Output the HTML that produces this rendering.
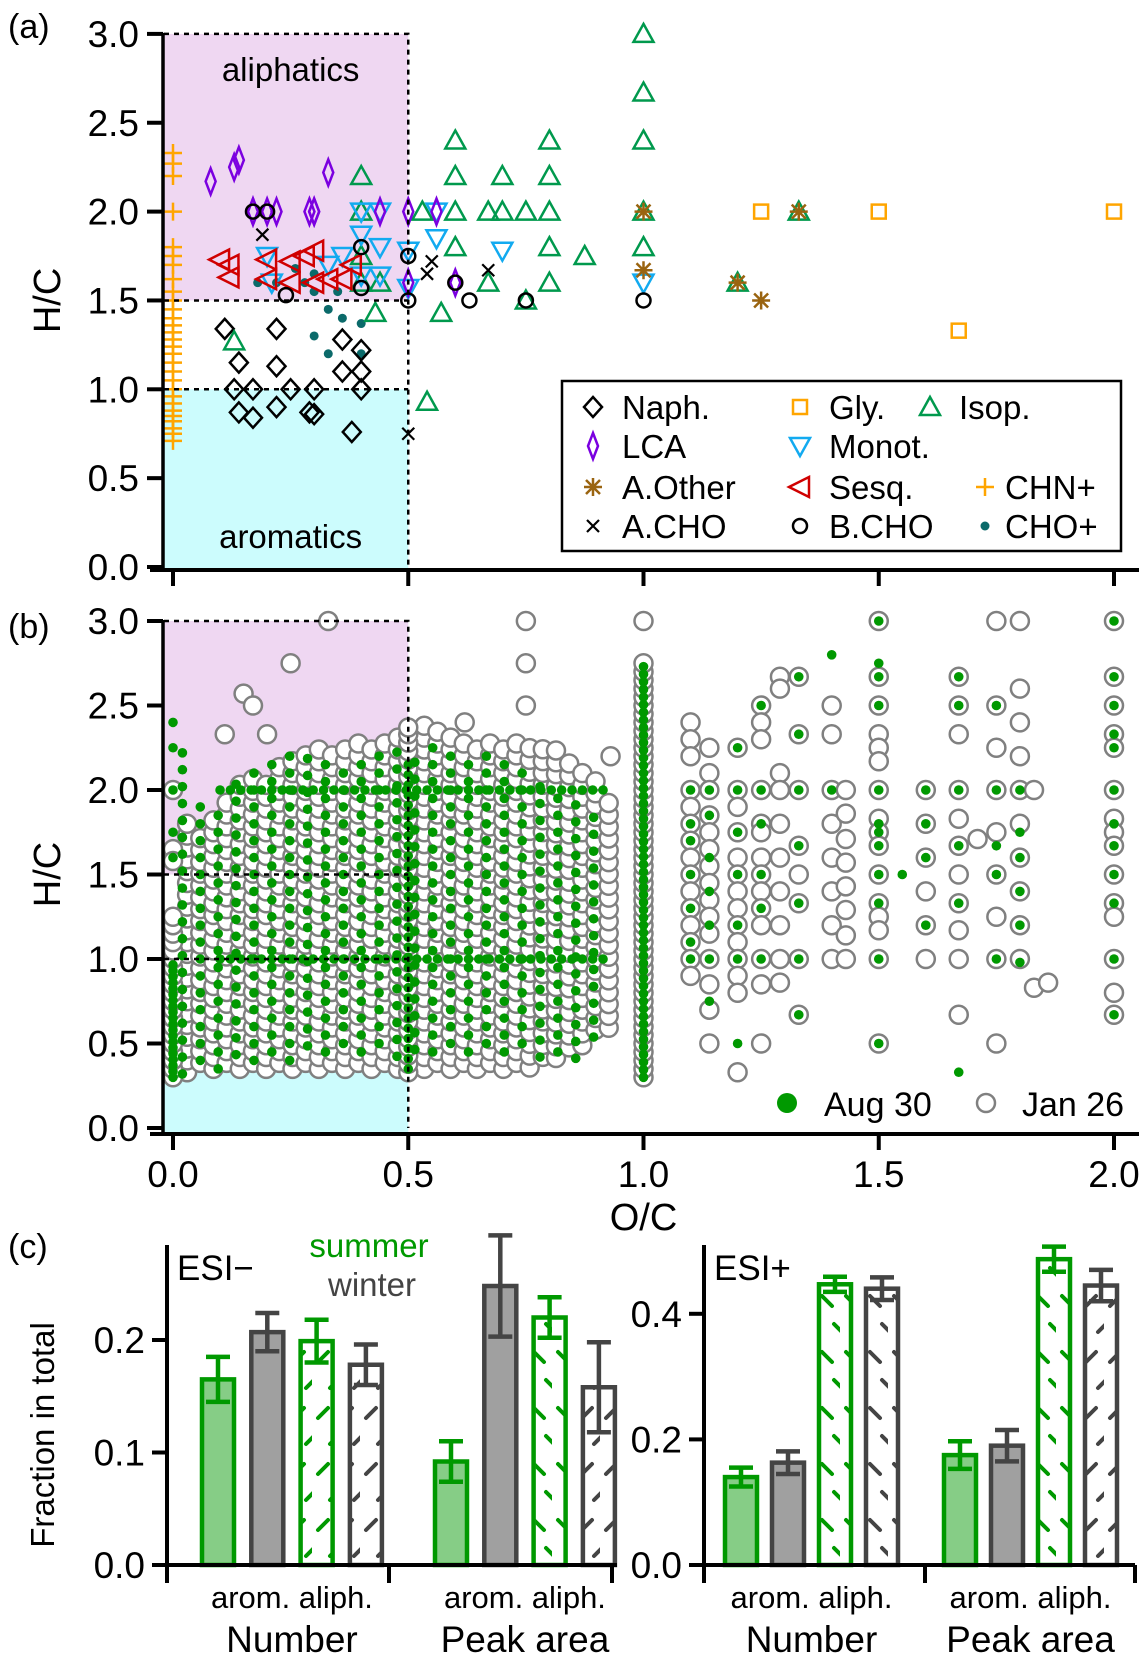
<!DOCTYPE html>
<html><head><meta charset="utf-8"><style>
html,body{margin:0;padding:0;background:#fff;}
svg{display:block;font-family:"Liberation Sans",Arial,sans-serif;}
</style></head><body>
<svg id="chart" width="1148" height="1661" viewBox="0 0 1148 1661" xmlns="http://www.w3.org/2000/svg">
<defs>
<pattern id="hatchG" width="24" height="56" patternUnits="userSpaceOnUse">
<line x1="6" y1="8" x2="16" y2="18" stroke="#009900" stroke-width="4" stroke-linecap="round"/>
<line x1="18" y1="36" x2="26" y2="44" stroke="#009900" stroke-width="4" stroke-linecap="round"/>
</pattern>
<pattern id="hatchK" width="24" height="56" patternUnits="userSpaceOnUse">
<line x1="6" y1="8" x2="16" y2="18" stroke="#444" stroke-width="4" stroke-linecap="round"/>
<line x1="18" y1="36" x2="26" y2="44" stroke="#444" stroke-width="4" stroke-linecap="round"/>
</pattern>
<pattern id="hatchG2" width="24" height="56" patternUnits="userSpaceOnUse">
<line x1="16" y1="8" x2="6" y2="18" stroke="#009900" stroke-width="4" stroke-linecap="round"/>
<line x1="26" y1="36" x2="18" y2="44" stroke="#009900" stroke-width="4" stroke-linecap="round"/>
</pattern>
<pattern id="hatchK2" width="24" height="56" patternUnits="userSpaceOnUse">
<line x1="16" y1="8" x2="6" y2="18" stroke="#444" stroke-width="4" stroke-linecap="round"/>
<line x1="26" y1="36" x2="18" y2="44" stroke="#444" stroke-width="4" stroke-linecap="round"/>
</pattern>
</defs>
</svg>
<script>
// ---------- Panel (a) data ----------
const naphOC=[.11,.22,.14,.22,.36,.40,.13,.17,.25,.30,.40,.40,.36,.14,.17,.22,.29,.38,.30];
const naphHC=[1.34,1.34,1.15,1.13,1.28,1.22,1.0,1.0,1.0,1.0,1.0,1.1,1.1,.87,.84,.9,.87,.76,.86];
const lcaOC=[.08,.13,.14,.33,.17,.20,.22,.29,.30,.44,.50,.56,.50,.60,.17,.30];
const lcaHC=[2.17,2.25,2.29,2.22,2.0,2.0,2.0,2.0,2.0,2.0,2.0,2.0,1.6,1.6,2.0,2.0];
const isopOC=[1.0,1.0,1.0,1.0,1.0,.6,.8,.6,.7,.8,.4,.6,.67,.7,.75,.8,.4,.53,.8,.875,.6,.57,.8,.67,.75,.4,.43,.13,.54,1.2,1.33,.4,.44];
const isopHC=[3.0,2.67,2.4,2.0,1.8,2.4,2.4,2.2,2.2,2.2,2.2,2.0,2.0,2.0,2.0,2.0,2.0,2.0,1.8,1.75,1.8,1.43,1.6,1.6,1.5,1.75,1.43,1.27,.93,1.6,2.0,1.6,1.6];
const monoOC=[.4,.44,.4,.44,.56,.56,.7,.5,.5,.21,.2,.36,.4,1.0,.44,.33];
const monoHC=[2.0,2.0,1.87,1.8,2.0,1.85,1.78,1.78,1.57,1.6,1.75,1.75,1.64,1.6,1.64,1.7];
const sesqOC=[.1,.12,.2,.25,.28,.3,.3,.33,.36,.25,.38,.12,.2];
const sesqHC=[1.73,1.7,1.73,1.72,1.75,1.78,1.6,1.62,1.62,1.6,1.7,1.63,1.62];
const aothOC=[1.0,1.33,1.0,1.2,1.25];
const aothHC=[2.0,2.0,1.67,1.6,1.5];
const glyOC=[1.25,1.5,2.0,1.67];
const glyHC=[2.0,2.0,2.0,1.33];
const achoOC=[.19,.55,.67,.5,.54];
const achoHC=[1.87,1.72,1.67,.75,1.65];
const bchoOC=[.17,.2,.4,.4,.5,.5,.63,.6,.75,1.0,.24];
const bchoHC=[2.0,2.0,1.8,1.57,1.5,1.75,1.5,1.6,1.5,1.5,1.53];
const chopOC=[.3,.33,.36,.4,.3,.33,.4,.28,.26,.22,.35,.3,.18];
const chopHC=[1.55,1.45,1.4,1.37,1.3,1.2,1.2,1.6,1.68,1.6,1.55,1.65,1.6];
const chnHC=[2.33,2.27,2.2,2.0,1.8,1.75,1.7,1.62,1.55,1.5,1.45,1.4,1.36,1.32,1.28,1.24,1.2,1.15,1.1,1.05,1.0,.96,.92,.88,.85,.82,.78,.75,.71];
const yTicks=[0,0.5,1.0,1.5,2.0,2.5,3.0];
const xTicks=[0,0.5,1.0,1.5,2.0];

// ---------- Panel (b) data ----------
const envOC=[0.0,0.05,0.1,0.15,0.2,0.25,0.3,0.35,0.4,0.45,0.5,0.55,0.6,0.65,0.7,0.75,0.8,0.85,0.9,0.93];
const janTop=[2.0,1.75,1.9,2.1,2.1,2.2,2.3,2.25,2.3,2.3,2.35,2.4,2.35,2.3,2.3,2.3,2.3,2.2,2.1,1.9];
const janBot=[0.3,0.35,0.35,0.35,0.35,0.35,0.35,0.35,0.35,0.35,0.35,0.35,0.35,0.35,0.35,0.35,0.4,0.45,0.55,0.6];
const augTop=[2.4,2.0,1.9,2.1,2.2,2.25,2.25,2.2,2.2,2.3,2.2,2.3,2.3,2.2,2.25,2.1,2.0,2.0,1.9,1.8];
const augBot=[0.3,0.35,0.35,0.4,0.4,0.4,0.45,0.45,0.45,0.45,0.4,0.45,0.45,0.45,0.45,0.45,0.4,0.4,0.5,0.6];
const janExtraOC=[.33,.25,.15,.17,.11,.2,.75,.75,.75,.62,.93];
const janExtraHC=[3.0,2.75,2.57,2.5,2.33,2.33,3.0,2.75,2.5,2.4,2.2];
const janColOC=[1.1,1.14,1.2,1.25,1.29,1.33,1.4,1.43,1.5,1.6,1.67,1.71,1.75,1.8,1.83,1.86,2.0];
const janColHC=[
[2.4,2.3,2.2,2.0,1.9,1.8,1.7,1.6,1.5,1.4,1.3,1.2,1.1,1.0,0.9],
[2.25,2.1,2.0,1.85,1.75,1.65,1.55,1.45,1.35,1.25,1.15,1.0,0.85,0.7,0.5],
[2.25,2.0,1.9,1.75,1.6,1.5,1.4,1.3,1.2,1.1,1.0,0.9,0.8,0.33],
[2.5,2.4,2.3,2.0,1.8,1.75,1.6,1.5,1.4,1.3,1.2,1.0,0.85,0.5],
[2.67,2.6,2.1,2.0,1.8,1.6,1.4,1.2,1.0,0.86],
[2.67,2.33,2.0,1.67,1.5,1.33,1.0,0.67],
[2.5,2.33,2.0,1.8,1.6,1.4,1.2,1.0],
[2.0,1.86,1.71,1.57,1.43,1.29,1.14,1.0],
[3.0,2.67,2.5,2.33,2.25,2.17,2.0,1.83,1.75,1.67,1.5,1.33,1.25,1.17,1.0,0.5],
[2.0,1.8,1.6,1.4,1.2,1.0],
[2.67,2.5,2.33,2.0,1.83,1.67,1.5,1.33,1.17,1.0,0.67],
[1.71],
[3.0,2.5,2.25,2.0,1.75,1.5,1.25,1.0,0.5],
[3.0,2.6,2.4,2.2,2.0,1.8,1.6,1.4,1.2,1.0],
[2.0,0.83],[0.86],
[3.0,2.67,2.5,2.33,2.25,2.0,1.83,1.75,1.67,1.5,1.33,1.25,1.0,0.8,0.67]];
const augColOC=[1.1,1.14,1.2,1.25,1.33,1.4,1.5,1.55,1.6,1.67,1.75,1.8,2.0];
const augColHC=[
[2.0,1.8,1.7,1.5,1.3,1.1,1.0],
[2.0,1.85,1.6,1.4,1.2,1.0,0.75],
[2.25,2.0,1.75,1.5,1.2,1.0,0.5],
[2.5,2.0,1.8,1.5,1.3,1.0],
[2.67,2.33,2.0,1.67,1.33,1.0,0.67],
[2.8,2.0],
[3.0,2.75,2.67,2.5,2.0,1.8,1.75,1.67,1.5,1.33,1.0,0.5],
[1.5],
[2.0,1.8,1.6,1.2],
[2.67,2.5,2.0,1.67,1.33,0.33],
[2.5,2.0,1.67,1.5,1.0],
[2.0,1.75,1.6,1.4,1.2,0.98],
[3.0,2.67,2.5,2.33,2.25,2.0,1.8,1.67,1.5,1.33,1.0,0.67]];
const denseColOC=[0.0,0.5,1.0];
const denseColMin=[0.3,0.33,0.3];
const denseColMax=[1.3,2.35,2.75];

// ---------- Panel (c) data ----------
const barCats=["arom. summer","arom. winter","aliph. summer","aliph. winter"];
const groups=["Number","Peak area"];
const esiNegVals=[0.165,0.207,0.199,0.178,0.092,0.248,0.220,0.158];
const esiNegErr=[0.02,0.017,0.019,0.018,0.018,0.045,0.018,0.04];
const esiPosVals=[0.14,0.163,0.447,0.44,0.175,0.19,0.487,0.445];
const esiPosErr=[0.015,0.018,0.012,0.018,0.022,0.025,0.02,0.025];
const negTicks=[0.0,0.1,0.2];
const posTicks=[0.0,0.2,0.4];

const NS="http://www.w3.org/2000/svg";
const svg=document.getElementById('chart');
function mk(tag,attrs,parent){const e=document.createElementNS(NS,tag);for(const k in attrs)e.setAttribute(k,attrs[k]);(parent||svg).appendChild(e);return e;}
function txt(s,attrs,parent){const e=mk('text',attrs,parent);e.textContent=s;return e;}

const xOC=oc=>173+oc*470.5;
const yA=hc=>567-hc*177.7;
const yB=hc=>1128-hc*169;

// ===== Panel (a) =====
const gA=mk('g',{});


let r=mk('rect',{x:164,y:yA(3),width:xOC(0.5)-164,height:yA(1.5)-yA(3),fill:'#efd7f2'},gA);


r=mk('rect',{x:164,y:yA(1),width:xOC(0.5)-164,height:yA(0)-yA(1)+3,fill:'#ccfcfd'},gA);


function dashes(g,yf){
  const d=`M164,${yf(3)} H${xOC(0.5)} V${yf(0)} M164,${yf(1.5)} H${xOC(0.5)} M164,${yf(1)} H${xOC(0.5)}`;
  const p=mk('path',{d:d,fill:'none',stroke:'#000','stroke-width':2.5,'stroke-dasharray':'5,5'},g);
  
  
}
let t=txt('aliphatics',{x:xOC(0.25),y:81,'font-size':33,'text-anchor':'middle'},gA);


t=txt('aromatics',{x:xOC(0.25),y:548,'font-size':33,'text-anchor':'middle'},gA);



function marker(kind,cx,cy,g){
  let e;
  if(kind==='diamond') e=mk('path',{d:`M${cx},${cy-10}L${cx+9},${cy}L${cx},${cy+10}L${cx-9},${cy}Z`,fill:'none',stroke:'#000','stroke-width':2.5},g);
  else if(kind==='lca') e=mk('path',{d:`M${cx},${cy-13}L${cx+5},${cy}L${cx},${cy+13}L${cx-5},${cy}Z`,fill:'none',stroke:'#7b00e0','stroke-width':2.5},g);
  else if(kind==='up') e=mk('path',{d:`M${cx},${cy-10}L${cx+10},${cy+8}L${cx-10},${cy+8}Z`,fill:'none',stroke:'#00994d','stroke-width':2.5},g);
  else if(kind==='down') e=mk('path',{d:`M${cx},${cy+10}L${cx+10},${cy-8}L${cx-10},${cy-8}Z`,fill:'none',stroke:'#12aaf0','stroke-width':2.5},g);
  else if(kind==='left') e=mk('path',{d:`M${cx-11},${cy}L${cx+9},${cy-10}L${cx+9},${cy+10}Z`,fill:'none',stroke:'#d00000','stroke-width':2.5},g);
  else if(kind==='square') e=mk('rect',{x:cx-7,y:cy-7,width:14,height:14,fill:'none',stroke:'#ffa500','stroke-width':2.5},g);
  else if(kind==='star') e=mk('path',{d:`M${cx-9},${cy}H${cx+9}M${cx},${cy-9}V${cy+9}M${cx-7},${cy-7}L${cx+7},${cy+7}M${cx-7},${cy+7}L${cx+7},${cy-7}`,fill:'none',stroke:'#9a6410','stroke-width':2.5},g);
  else if(kind==='x') e=mk('path',{d:`M${cx-6},${cy-6}L${cx+6},${cy+6}M${cx-6},${cy+6}L${cx+6},${cy-6}`,fill:'none',stroke:'#000','stroke-width':2.2},g);
  else if(kind==='circle') e=mk('circle',{cx:cx,cy:cy,r:7,fill:'none',stroke:'#000','stroke-width':2.5},g);
  else if(kind==='plus') e=mk('path',{d:`M${cx-9},${cy}H${cx+9}M${cx},${cy-9}V${cy+9}`,fill:'none',stroke:'#ffa500','stroke-width':2.5},g);
  else if(kind==='dot') e=mk('circle',{cx:cx,cy:cy,r:4.5,fill:'#0b6a6a'},g);
  return e;
}
function series(name,kind,ocs,hcs){
  const g=mk('g',{},gA);
  
  
  for(let i=0;i<hcs.length;i++){
    const e=marker(kind,xOC(ocs[i]),yA(hcs[i]),g);
    
    
  }
}
series('chn-plus-series','plus',chnHC.map(()=>0),chnHC);
series('cho-plus-series','dot',chopOC,chopHC);
series('naph-series','diamond',naphOC,naphHC);
series('isop-series','up',isopOC,isopHC);
series('monot-series','down',monoOC,monoHC);
series('lca-series','lca',lcaOC,lcaHC);
series('sesq-series','left',sesqOC,sesqHC);
series('gly-series','square',glyOC,glyHC);
series('a-other-series','star',aothOC,aothHC);
series('a-cho-series','x',achoOC,achoHC);
series('b-cho-series','circle',bchoOC,bchoHC);
dashes(gA,yA);

function yAxis(g,yf,ticks,x0,name){
  const a=mk('line',{x1:x0,y1:yf(ticks[ticks.length-1])-1,x2:x0,y2:yf(0)+4,stroke:'#000','stroke-width':3.5},g);
  
  
  ticks.forEach(v=>{
    const tk=mk('line',{x1:x0-16,y1:yf(v),x2:x0,y2:yf(v),stroke:'#000','stroke-width':4},g);
    
    
    const l=txt(v.toFixed(1),{x:x0-24,y:yf(v)+13,'font-size':37,'text-anchor':'end'},g);
    
    
  });
}
yAxis(gA,yA,yTicks,163,'y-axis-a');
function xAxis(g,y0,labels){
  const a=mk('line',{x1:150,y1:y0,x2:1139,y2:y0,stroke:'#000','stroke-width':4},g);
  
  
  xTicks.forEach(v=>{
    const tk=mk('line',{x1:xOC(v),y1:y0,x2:xOC(v),y2:y0+16,stroke:'#000','stroke-width':4},g);
    
    
    if(labels){
      const l=txt(v.toFixed(1),{x:xOC(v),y:y0+53,'font-size':37,'text-anchor':'middle'},g);
      
      
    }
  });
}
xAxis(gA,570,false);
t=txt('H/C',{x:0,y:0,'font-size':38,'text-anchor':'middle',transform:`translate(60,${yA(1.5)}) rotate(-90)`},gA);


t=txt('(a)',{x:8,y:38,'font-size':34},gA);



// legend (a)
const lg=mk('g',{},gA);


r=mk('rect',{x:562,y:381,width:559,height:170,fill:'#fff',stroke:'#000','stroke-width':2.5},lg);


const legItems=[['diamond',593,407,'Naph.'],['square',800,407,'Gly.'],['up',930,407,'Isop.'],['lca',593,446,'LCA'],['down',800,446,'Monot.'],['star',593,487,'A.Other'],['left',800,487,'Sesq.'],['plus',985,487,'CHN+'],['x',593,526,'A.CHO'],['circle',800,526,'B.CHO'],['dot',985,526,'CHO+']];
legItems.forEach(it=>{
  const m=marker(it[0],it[1],it[2],lg);
  
  
  const l=txt(it[3],{x:it[1]+(it[0]==='plus'||it[0]==='dot'?20:29),y:it[2]+12,'font-size':33},lg);
  
  
});

// ===== Panel (b) =====
const gB=mk('g',{});


r=mk('rect',{x:164,y:yB(3),width:xOC(0.5)-164,height:yB(1.5)-yB(3),fill:'#efd7f2'},gB);


r=mk('rect',{x:164,y:yB(1),width:xOC(0.5)-164,height:1134-yB(1),fill:'#ccfcfd'},gB);


function envAt(arr,oc){
  for(let i=0;i<envOC.length-1;i++){
    if(oc>=envOC[i]&&oc<=envOC[i+1]){const f=(oc-envOC[i])/(envOC[i+1]-envOC[i]);return arr[i]+f*(arr[i+1]-arr[i]);}
  }
  return arr[arr.length-1];
}
const gJan=mk('g',{},gB);


const gAug=mk('g',{},gB);


function jan(oc,hc){
  const c=mk('circle',{cx:xOC(oc),cy:yB(hc),r:9,fill:'#fff',stroke:'#808080','stroke-width':2.5},gJan);
  
  
}
function aug(oc,hc){
  const c=mk('circle',{cx:xOC(oc),cy:yB(hc),r:4.8,fill:'#009900'},gAug);
  
  
}
let ci=0;
for(let oc=0.03;oc<=0.935;oc+=0.028){
  const top=envAt(janTop,oc),bot=envAt(janBot,oc);
  const off=(ci%2)*0.035;
  for(let hc=bot+off;hc<=top;hc+=0.07) jan(oc,hc);
  ci++;
}
janExtraOC.forEach((oc,i)=>jan(oc,janExtraHC[i]));
denseColOC.forEach((oc,i)=>{for(let hc=denseColMin[i];hc<=denseColMax[i];hc+=0.05) jan(oc,hc);});
jan(1.0,3.0);jan(0,2.0);jan(0,1.65);jan(0,1.58);jan(0.5,2.37);
janColOC.forEach((oc,i)=>janColHC[i].forEach(hc=>jan(oc,hc)));
ci=0;
for(let oc=0.02;oc<=0.93;oc+=0.038){
  const top=envAt(augTop,oc),bot=envAt(augBot,oc);
  const off=(ci%2)*0.05;
  for(let hc=bot+off;hc<=top;hc+=0.1) aug(oc,hc);
  ci++;
}
for(let oc=0.1;oc<=0.93;oc+=0.022){aug(oc,2.0);aug(oc,1.0);}
for(let hc=0.3;hc<=1.0;hc+=0.035) aug(0,hc);
[1.6,1.75,2.0,2.25,2.4].forEach(hc=>aug(0,hc));
for(let hc=0.35;hc<=2.2;hc+=0.06) aug(0.5,hc);
for(let hc=0.3;hc<=2.75;hc+=0.045) aug(1.0,hc);
augColOC.forEach((oc,i)=>augColHC[i].forEach(hc=>aug(oc,hc)));
dashes(gB,yB);
yAxis(gB,yB,yTicks,163,'y-axis-b');
xAxis(gB,1134,true);
t=txt('O/C',{x:xOC(1.0),y:1230,'font-size':38,'text-anchor':'middle'},gB);


t=txt('H/C',{x:0,y:0,'font-size':38,'text-anchor':'middle',transform:`translate(60,${yB(1.5)}) rotate(-90)`},gB);


t=txt('(b)',{x:8,y:638,'font-size':34},gB);


let lm=mk('circle',{cx:787,cy:1103,r:10,fill:'#009900'},gB);


t=txt('Aug 30',{x:824,y:1116,'font-size':34},gB);


lm=mk('circle',{cx:986,cy:1103,r:9,fill:'#fff',stroke:'#808080','stroke-width':2.5},gB);


t=txt('Jan 26',{x:1022,y:1116,'font-size':34},gB);



// ===== Panel (c) =====
function barChart(name,x0,xEnd,y0,scale,ticks,vals,errs,firstBar,step,groupStep,tickXs,title,hatchVariant){
  const g=mk('g',{});
  
  
  const yv=v=>y0-v*scale;
  const bw=36;
  vals.forEach((v,i)=>{
    const k=i%4,gi=Math.floor(i/4);
    const x=firstBar+k*step+gi*groupStep;
    const summer=(k%2===0);
    const stroke=summer?'#009900':'#444';
    let fill;
    if(k<2) fill=summer?'#86cd86':'#a0a0a0';
    else fill=hatchVariant[i]===1?(summer?'url(#hatchG)':'url(#hatchK)'):(summer?'url(#hatchG2)':'url(#hatchK2)');
    const b=mk('rect',{x:x+2,y:yv(v),width:bw-4,height:y0-yv(v),fill:k<2?fill:'#fff',stroke:stroke,'stroke-width':4.5},g);
    
    
    if(k>=2){
      const h=mk('rect',{x:x+4,y:yv(v)+2,width:bw-8,height:y0-yv(v)-2,fill:fill},g);
      
      
    }
    const cx=x+bw/2;
    const e=mk('path',{d:`M${cx},${yv(v+errs[i])}V${yv(v-errs[i])}M${cx-12},${yv(v+errs[i])}H${cx+12}M${cx-12},${yv(v-errs[i])}H${cx+12}`,fill:'none',stroke:stroke,'stroke-width':4.5},g);
    
    
  });
  const ax=mk('line',{x1:x0,y1:y0-320,x2:x0,y2:y0,stroke:'#000','stroke-width':4},g);
  
  
  ticks.forEach(v=>{
    const tk=mk('line',{x1:x0-15,y1:yv(v),x2:x0,y2:yv(v),stroke:'#000','stroke-width':4},g);
    
    
    const l=txt(v.toFixed(1),{x:x0-22,y:yv(v)+13,'font-size':37,'text-anchor':'end'},g);
    
    
  });
  const bx=mk('line',{x1:x0-12,y1:y0,x2:xEnd,y2:y0,stroke:'#000','stroke-width':4},g);
  
  
  tickXs.forEach(x=>{
    const tk=mk('line',{x1:x,y1:y0,x2:x,y2:y0+18,stroke:'#000','stroke-width':4},g);
    
    
  });
  groups.forEach((gn,gi)=>{
    const cx=firstBar+gi*groupStep+1.5*step+18;
    const l1=txt('arom. aliph.',{x:cx,y:1608,'font-size':31,'text-anchor':'middle'},g);
    
    
    const l2=txt(gn,{x:cx,y:1652,'font-size':37,'text-anchor':'middle'},g);
    
    
  });
  const tl=txt(title,{x:x0+10,y:1280,'font-size':35},g);
  
  
  return g;
}
barChart('esi-neg-chart',167,617,1565,1125,negTicks,esiNegVals,esiNegErr,200,49.3,233,[167,389,612],'ESI\u2212',[0,0,0,0,0,0,1,0]);
barChart('esi-pos-chart',704,1135,1565,628,posTicks,esiPosVals,esiPosErr,723,47,219,[704,925,1135],'ESI+',[0,0,1,1,0,0,1,0]);
t=txt('summer',{x:369,y:1257,'font-size':33,'text-anchor':'middle',fill:'#009900'});


t=txt('winter',{x:372,y:1296,'font-size':33,'text-anchor':'middle',fill:'#444'});


t=txt('Fraction in total',{x:0,y:0,'font-size':33,'text-anchor':'middle',transform:'translate(54,1435) rotate(-90)'});


t=txt('(c)',{x:8,y:1258,'font-size':34});


</script>
</body></html>
